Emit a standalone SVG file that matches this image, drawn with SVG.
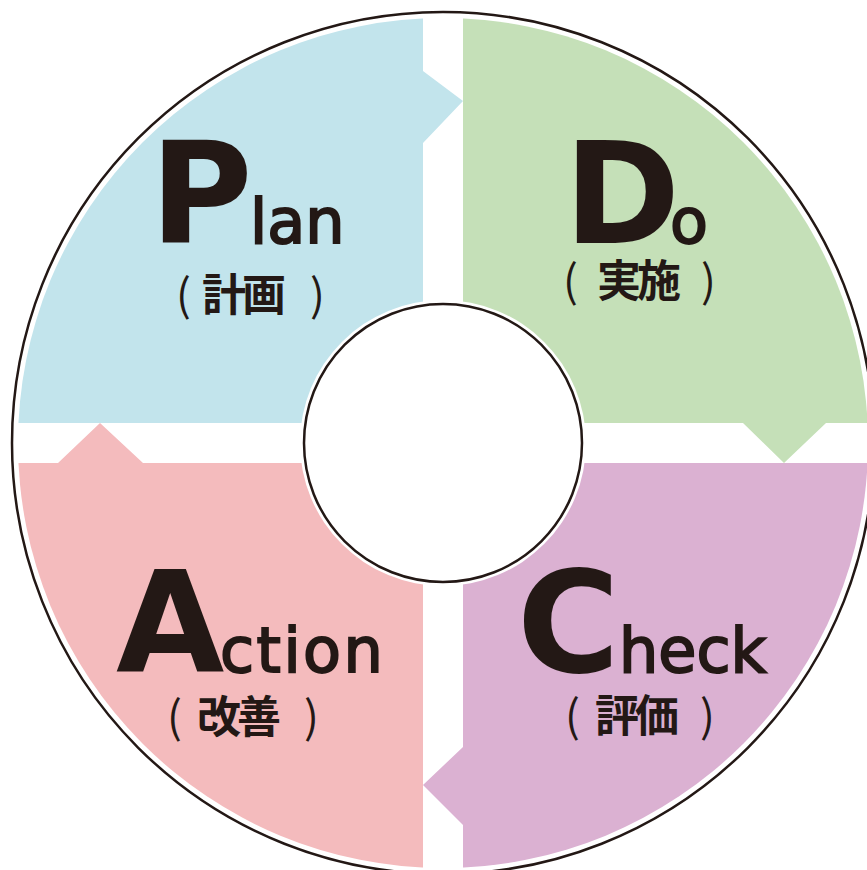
<svg xmlns="http://www.w3.org/2000/svg" width="867" height="870" viewBox="0 0 867 870">
<style>
.ink{fill:#231815}
.cap{font-family:"DejaVu Sans",sans-serif;font-weight:700;font-size:140px}
.low{font-family:"DejaVu Sans",sans-serif;font-weight:400;font-size:62px;stroke:#231815;stroke-width:2px}
.jp{font-family:"Noto Sans CJK JP",sans-serif;font-weight:700;font-size:44px}
.han{letter-spacing:-4px}
.par{font-weight:400}
</style>
<defs>
<clipPath id="disc"><circle cx="443" cy="443" r="425"/></clipPath>
</defs>
<rect width="867" height="870" fill="#ffffff"/>
<g id="plan">
<polygon clip-path="url(#disc)" fill="#c2e4ec" points="0,0 423,0 423,71 463,101 423,143 423,423 0,423"/>
<text class="ink"><tspan class="cap" x="150" y="243">P</tspan><tspan class="low" x="250" y="243">lan</tspan></text>
<text class="ink jp"><tspan class="par" x="176" y="311">(</tspan><tspan class="han" x="202" y="311">計画</tspan><tspan class="par" x="310" y="311">)</tspan></text>
</g>
<g id="do">
<polygon clip-path="url(#disc)" fill="#c5e0b8" points="463,0 867,0 867,423 826,423 784,463 743,423 463,423"/>
<text class="ink"><tspan class="cap" x="564" y="243">D</tspan><tspan class="low" x="670" y="243">o</tspan></text>
<text class="ink jp"><tspan class="par" x="563" y="297">(</tspan><tspan class="han" x="597" y="297">実施</tspan><tspan class="par" x="701" y="297">)</tspan></text>
</g>
<g id="check">
<polygon clip-path="url(#disc)" fill="#dbb1d2" points="463,463 867,463 867,870 463,870 463,825 423,785 463,747"/>
<text class="ink"><tspan class="cap" x="517" y="672">C</tspan><tspan class="low" x="619" y="672">heck</tspan></text>
<text class="ink jp"><tspan class="par" x="565" y="732">(</tspan><tspan class="han" x="595" y="732">評価</tspan><tspan class="par" x="700" y="732">)</tspan></text>
</g>
<g id="action">
<polygon clip-path="url(#disc)" fill="#f4bbbd" points="0,463 58,463 100,423 143,463 423,463 423,870 0,870"/>
<text class="ink"><tspan class="cap" x="116" y="672">A</tspan><tspan class="low" x="220" y="672" letter-spacing="2.5">ction</tspan></text>
<text class="ink jp"><tspan class="par" x="167" y="733">(</tspan><tspan class="han" x="197" y="733">改善</tspan><tspan class="par" x="304" y="733">)</tspan></text>
</g>
<g id="rings">
<circle cx="443" cy="443" r="431" fill="none" stroke="#231815" stroke-width="2.5"/>
<circle cx="443" cy="443" r="143" fill="#ffffff"/>
<circle cx="443" cy="443" r="139" fill="#ffffff" stroke="#231815" stroke-width="2.5"/>
</g>
</svg>
